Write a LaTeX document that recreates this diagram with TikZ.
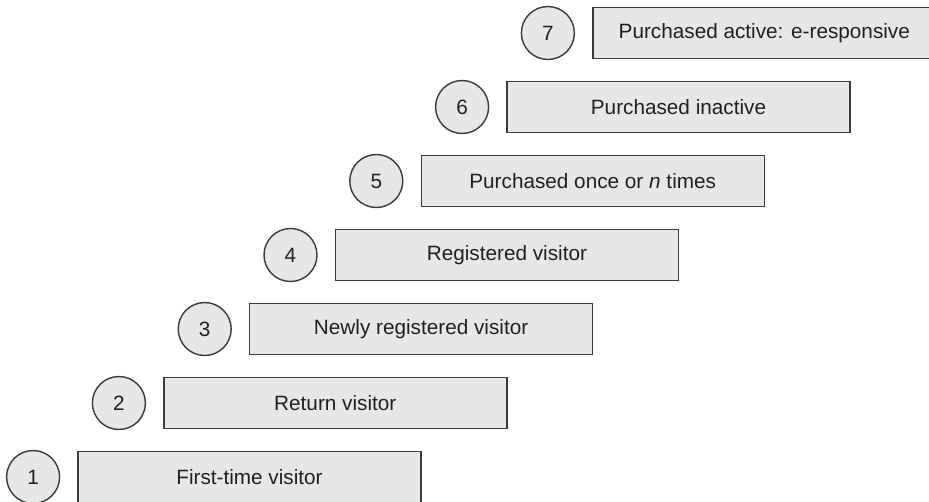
\documentclass[tikz,border=0pt]{standalone}
\usepackage{fontspec}
\setmainfont{Liberation Sans}
\usepackage{tikz}
\usetikzlibrary{positioning}
\definecolor{boxgray}{HTML}{E6E7E8}
\definecolor{linegray}{HTML}{3A3A3A}
\definecolor{inkgray}{HTML}{231F20}
\newcommand{\stepfont}{\fontsize{5.9}{7}\selectfont}
\tikzset{
  stepbox/.style={rectangle,draw=linegray,fill=boxgray,line width=0.4pt,minimum width=3.43cm,minimum height=0.51cm,inner sep=0pt,text=inkgray,font=\stepfont},
  stepnum/.style={circle,draw=linegray,fill=boxgray,line width=0.4pt,minimum size=0.53cm,inner sep=0pt,text=inkgray,font=\stepfont}
}

\begin{document}
\begin{tikzpicture}
    \useasboundingbox (0,0) rectangle (9.29,-5.01);
    \foreach \i/\txt in {1/First-time visitor,2/Return visitor,3/Newly registered visitor,4/Registered visitor,5/Purchased once or \textit{n} times,6/Purchased inactive,7/Purchased active: e-responsive}{
      \node[stepbox] (b\i) at ({2.495+0.858*(\i-1)},{-4.77+0.74*(\i-1)}) {\txt};
      \node[stepnum,left=0.17cm of b\i] (c\i) {\i};
    }
  \end{tikzpicture}
\end{document}
